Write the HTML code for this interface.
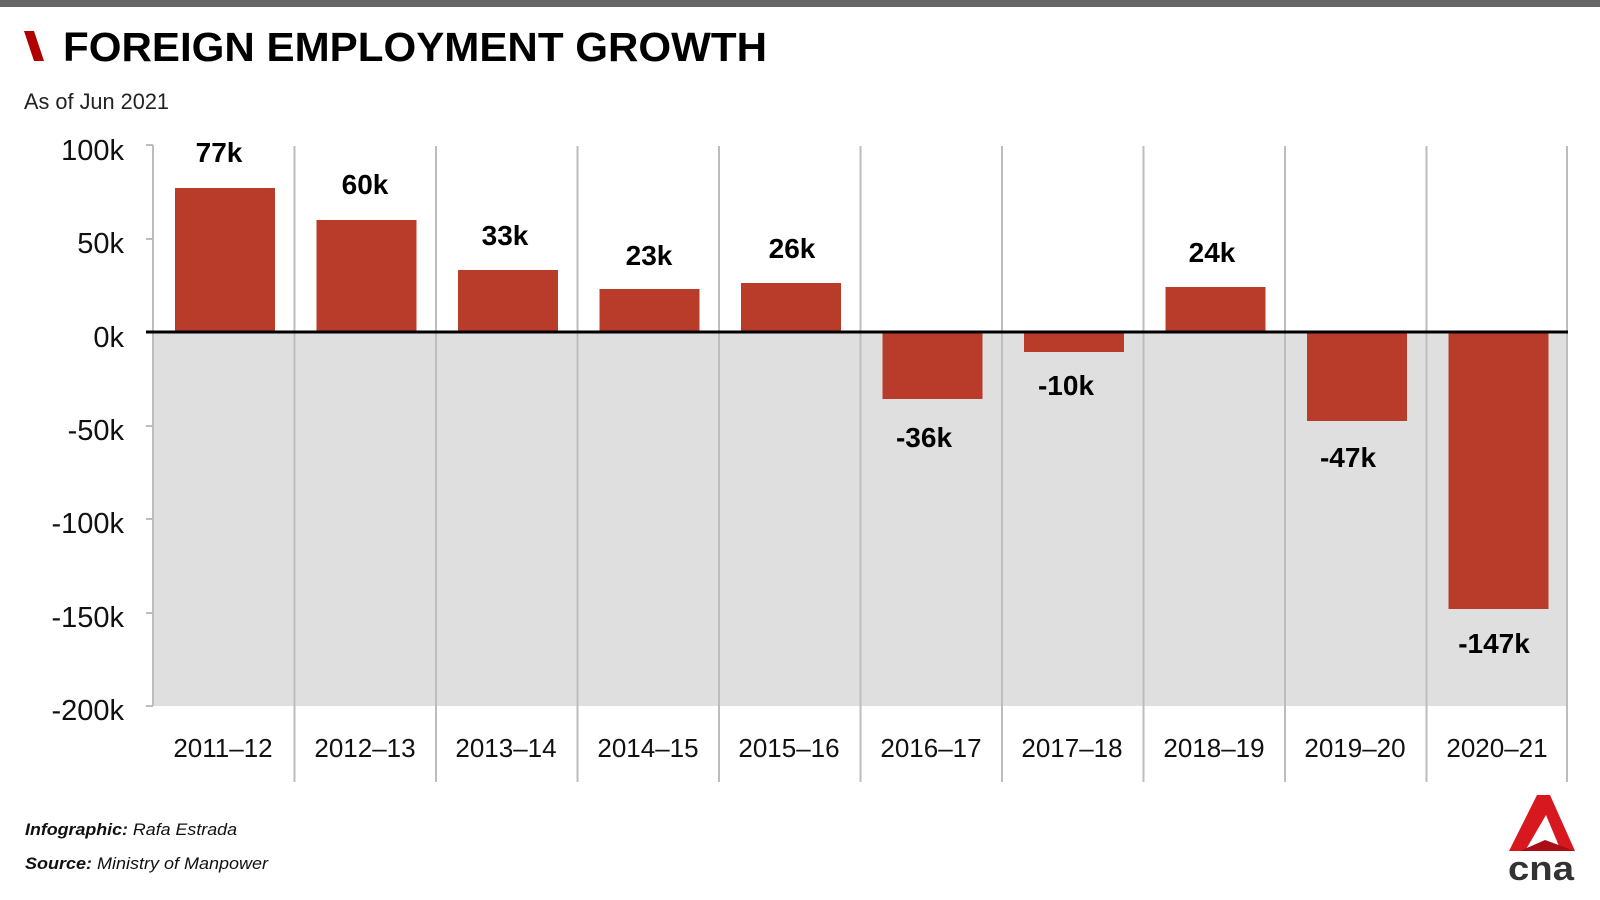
<!DOCTYPE html>
<html><head><meta charset="utf-8"><style>
html,body{margin:0;padding:0;background:#fff;}
svg{display:block;font-family:"Liberation Sans",sans-serif;}
</style></head><body>
<svg width="1600" height="900" viewBox="0 0 1600 900" xmlns="http://www.w3.org/2000/svg">
<rect x="0" y="0" width="1600" height="7" fill="#666"/>
<polygon points="24,31 34,31 44,61 34,61" fill="#b00000"/>
<text x="63" y="61" font-size="41" font-weight="bold" textLength="704" lengthAdjust="spacingAndGlyphs">FOREIGN EMPLOYMENT GROWTH</text>
<text x="24" y="109" font-size="22" fill="#222" textLength="145" lengthAdjust="spacingAndGlyphs">As of Jun 2021</text>
<rect x="153" y="332" width="1415" height="374" fill="#dfdfdf"/>
<g stroke="#bdbdbd" stroke-width="2">
<line x1="153" y1="145" x2="153" y2="706"/>
<line x1="146" y1="145" x2="153" y2="145"/>
<line x1="146" y1="239" x2="153" y2="239"/>
<line x1="146" y1="426" x2="153" y2="426"/>
<line x1="146" y1="519" x2="153" y2="519"/>
<line x1="146" y1="613" x2="153" y2="613"/>
<line x1="146" y1="706" x2="153" y2="706"/>
<line x1="294.5" y1="146" x2="294.5" y2="782"/>
<line x1="436" y1="146" x2="436" y2="782"/>
<line x1="577.5" y1="146" x2="577.5" y2="782"/>
<line x1="719" y1="146" x2="719" y2="782"/>
<line x1="860.5" y1="146" x2="860.5" y2="782"/>
<line x1="1002" y1="146" x2="1002" y2="782"/>
<line x1="1143.5" y1="146" x2="1143.5" y2="782"/>
<line x1="1285" y1="146" x2="1285" y2="782"/>
<line x1="1426.5" y1="146" x2="1426.5" y2="782"/>
<line x1="1567" y1="146" x2="1567" y2="782"/>
</g>
<g font-size="29" text-anchor="end" fill="#111">
<text x="124" y="160">100k</text>
<text x="124" y="253">50k</text>
<text x="124" y="347">0k</text>
<text x="124" y="440">-50k</text>
<text x="124" y="533">-100k</text>
<text x="124" y="627">-150k</text>
<text x="124" y="720">-200k</text>
</g>
<g fill="#b93c2b">
<rect x="175" y="188" width="100" height="144"/>
<rect x="316.5" y="220" width="100" height="112"/>
<rect x="458" y="270" width="100" height="62"/>
<rect x="599.5" y="289" width="100" height="43"/>
<rect x="741" y="283" width="100" height="49"/>
<rect x="882.5" y="332" width="100" height="67"/>
<rect x="1024" y="332" width="100" height="20"/>
<rect x="1165.5" y="287" width="100" height="45"/>
<rect x="1307" y="332" width="100" height="89"/>
<rect x="1448.5" y="332" width="100" height="277"/>
</g>
<line x1="146" y1="332" x2="1568" y2="332" stroke="#000" stroke-width="3"/>
<g font-size="28" font-weight="bold" text-anchor="middle" fill="#000">
<text x="219" y="162">77k</text>
<text x="365" y="194">60k</text>
<text x="505" y="245">33k</text>
<text x="649" y="265">23k</text>
<text x="792" y="258">26k</text>
<text x="924" y="447">-36k</text>
<text x="1066" y="395">-10k</text>
<text x="1212" y="262">24k</text>
<text x="1348" y="467">-47k</text>
<text x="1494" y="653">-147k</text>
</g>
<g font-size="26" text-anchor="middle" fill="#111">
<text x="223" y="757">2011–12</text>
<text x="365" y="757">2012–13</text>
<text x="506" y="757">2013–14</text>
<text x="648" y="757">2014–15</text>
<text x="789" y="757">2015–16</text>
<text x="931" y="757">2016–17</text>
<text x="1072" y="757">2017–18</text>
<text x="1214" y="757">2018–19</text>
<text x="1355" y="757">2019–20</text>
<text x="1497" y="757">2020–21</text>
</g>
<text x="25" y="835" font-size="17" font-style="italic" fill="#111" textLength="212" lengthAdjust="spacingAndGlyphs"><tspan font-weight="bold">Infographic:</tspan> Rafa Estrada</text>
<text x="25" y="869" font-size="17" font-style="italic" fill="#111" textLength="243" lengthAdjust="spacingAndGlyphs"><tspan font-weight="bold">Source:</tspan> Ministry of Manpower</text>
<polygon points="1537,795 1550,795 1575,851 1561,851 1546,815 1525,851 1509,851" fill="#d7191f"/>
<polygon points="1520,851 1545,840 1575,851" fill="#a80f14"/>
<text x="1541" y="880" font-size="34" font-weight="bold" text-anchor="middle" fill="#333" textLength="66" lengthAdjust="spacingAndGlyphs">cna</text>
</svg>
</body></html>
